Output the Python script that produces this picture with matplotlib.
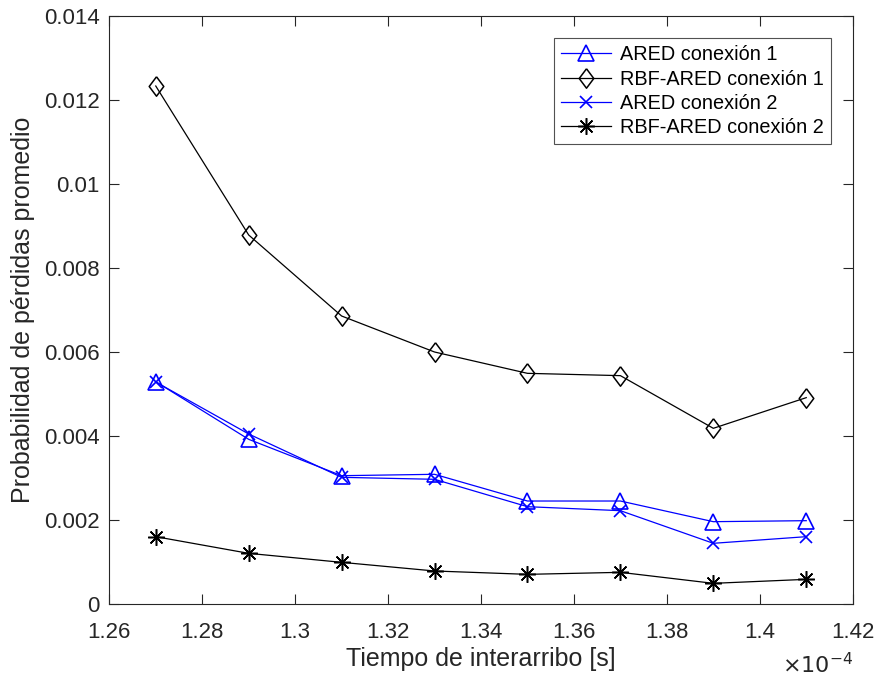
import matplotlib.pyplot as plt

plt.rcParams['font.family'] = ['Liberation Sans', 'DejaVu Sans']

# interarrival time (x 1e-4 s)
t = [1.27, 1.29, 1.31, 1.33, 1.35, 1.37, 1.39, 1.41]

ared_c1 = [0.005293, 0.003921, 0.003055, 0.003088, 0.002452, 0.002452, 0.001960, 0.001984]
rbf_c1 = [0.012333, 0.008786, 0.006857, 0.006000, 0.005492, 0.005437, 0.004183, 0.004913]
ared_c2 = [0.005286, 0.004048, 0.003016, 0.002969, 0.002317, 0.002222, 0.001445, 0.001603]
rbf_c2 = [0.001603, 0.001206, 0.000992, 0.000786, 0.000706, 0.000754, 0.000492, 0.000587]

xticks = [1.26, 1.28, 1.30, 1.32, 1.34, 1.36, 1.38, 1.40, 1.42]
xticklabels = ['1.26', '1.28', '1.3', '1.32', '1.34', '1.36', '1.38', '1.4', '1.42']
yticks = [0, 0.002, 0.004, 0.006, 0.008, 0.010, 0.012, 0.014]
yticklabels = ['0', '0.002', '0.004', '0.006', '0.008', '0.01', '0.012', '0.014']

fig = plt.figure(figsize=(8.77, 6.84), dpi=100)
ax = fig.add_axes([109.3 / 877, 80 / 684, 743.4 / 877, 588 / 684])

lw = 0.9
# MATLAB-like diamond (a bit taller than wide) and 8-arm asterisk
diamond = [(0, 1), (0.75, 0), (0, -1), (-0.75, 0), (0, 1)]
star = (8, 2, 0)

l1, = ax.plot(t, ared_c1, color='blue', lw=lw, marker='^', ms=11, mfc='none', mew=1.2)
l2, = ax.plot(t, rbf_c1, color='black', lw=lw, marker=diamond, ms=14, mfc='none', mew=1.1)
l3, = ax.plot(t, ared_c2, color='blue', lw=lw, marker='x', ms=8.5, mew=1.2)
l4, = ax.plot(t, rbf_c2, color='black', lw=lw, marker=star, ms=12, mew=1.1)

ax.set_xlim(1.26, 1.42)
ax.set_ylim(0, 0.014)
ax.set_xticks(xticks)
ax.set_xticklabels(xticklabels)
ax.set_yticks(yticks)
ax.set_yticklabels(yticklabels)

edge = '#262626'
for s in ax.spines.values():
    s.set_color(edge)
    s.set_linewidth(0.8)
ax.tick_params(direction='in', length=7, width=0.8, top=True, right=True,
               colors=edge, labelsize=16)
ax.tick_params(axis='x', pad=13)
ax.tick_params(axis='y', pad=7)

ax.set_xlabel('Tiempo de interarribo [s]', fontsize=18, color=edge, labelpad=3)
ax.set_ylabel('Probabilidad de pérdidas promedio', fontsize=18, color=edge, labelpad=6)
ax.text(1.0, -0.083, r'$\times10^{-4}$', transform=ax.transAxes, ha='right', va='top',
        fontsize=16, color=edge)

leg = ax.legend([l1, l2, l3, l4],
                ['ARED conexión 1', 'RBF-ARED conexión 1', 'ARED conexión 2', 'RBF-ARED conexión 2'],
                loc='upper right', bbox_to_anchor=(0.9708, 0.9626),
                fontsize=14.3, frameon=True, fancybox=False, handlelength=2.5,
                borderpad=0.36, labelspacing=0.27, handletextpad=0.45, borderaxespad=0)
leg.get_frame().set_edgecolor(edge)
leg.get_frame().set_linewidth(0.8)

fig.savefig('out.png', dpi=100)
